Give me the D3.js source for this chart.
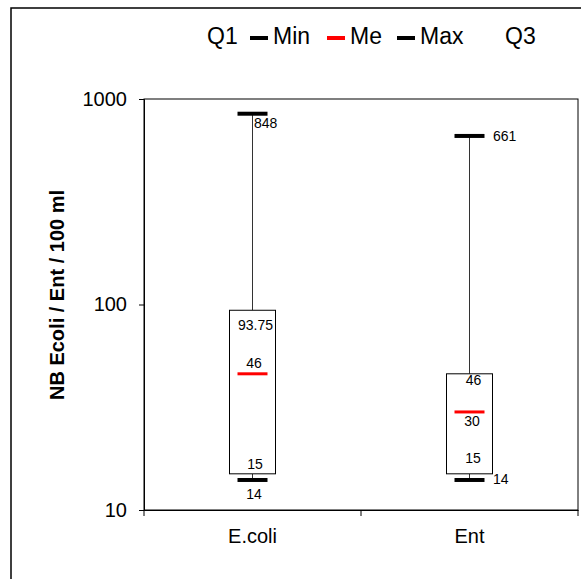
<!DOCTYPE html>
<html>
<head>
<meta charset="utf-8">
<script src="https://cdn.jsdelivr.net/npm/d3@7/dist/d3.min.js"></script>
<style>
  html, body { margin: 0; padding: 0; background: #fff; }
  svg { display: block; font-family: "Liberation Sans", Arial, sans-serif; }
</style>
</head>
<body>
<svg id="chart" width="581" height="579"></svg>
<script>
// Five-number summaries per indicator (counts per 100 ml)
const categories = ["E.coli", "Ent"];
const minVals = [14, 14];
const q1Vals = [15, 15];
const medVals = [46, 30];
const q3Vals = [93.75, 46];
const maxVals = [848, 661];
const yTicks = [10, 100, 1000];
const legendItems = ["Q1", "Min", "Me", "Max", "Q3"];
const legendColors = [null, "#000", "#ff0000", "#000", null];

const svg = d3.select("#chart");
const plot = { left: 144, right: 578, top: 99, bottom: 510 };

// outer chart frame
svg.append("rect")
  .attr("x", 11).attr("y", 8).attr("width", 700).attr("height", 700)
  .attr("fill", "#fff").attr("stroke", "#000").attr("stroke-width", 1.5);

const y = d3.scaleLog().domain([10, 1000]).range([plot.bottom, plot.top]);
const x = d3.scaleBand().domain(categories).range([plot.left, plot.right]).padding(0);

// plot area border
svg.append("rect")
  .attr("x", plot.left).attr("y", plot.top)
  .attr("width", plot.right - plot.left).attr("height", plot.bottom - plot.top)
  .attr("fill", "none").attr("stroke", "#000").attr("stroke-width", 1);

// y axis
const yAxis = svg.append("g")
  .attr("transform", `translate(${plot.left},0)`)
  .call(d3.axisLeft(y).tickValues(yTicks).tickFormat(d3.format("d")).tickSize(5).tickPadding(12));
yAxis.select(".domain").attr("stroke", "#000");
yAxis.selectAll("text").attr("font-size", 20).attr("fill", "#000")
  .attr("font-family", "'Liberation Sans', Arial, sans-serif");

// x axis: labels centred on each category, ticks on category boundaries
const xAxis = svg.append("g")
  .attr("transform", `translate(0,${plot.bottom})`)
  .call(d3.axisBottom(x).tickSize(0).tickPadding(19));
xAxis.select(".domain").attr("stroke", "#000");
xAxis.selectAll("text").attr("font-size", 20).attr("fill", "#000")
  .attr("font-family", "'Liberation Sans', Arial, sans-serif");
const bounds = categories.map(c => x(c)).concat([x(categories[categories.length - 1]) + x.bandwidth()]);
svg.append("g").selectAll("line").data(bounds).join("line")
  .attr("x1", d => d).attr("x2", d => d)
  .attr("y1", plot.bottom).attr("y2", plot.bottom + 6)
  .attr("stroke", "#000");

// y axis title
svg.append("text")
  .attr("transform", "translate(64,295) rotate(-90)")
  .attr("text-anchor", "middle")
  .attr("font-size", 20).attr("font-weight", "bold")
  .text("NB Ecoli / Ent / 100 ml");

// boxes
const boxW = 46, capW = 30;
const rows = categories.map((c, i) => ({
  cat: c, min: minVals[i], q1: q1Vals[i], med: medVals[i], q3: q3Vals[i], max: maxVals[i],
  cx: x(c) + x.bandwidth() / 2
}));

const g = svg.append("g");
rows.forEach(r => {
  // whiskers
  g.append("line").attr("x1", r.cx).attr("x2", r.cx)
    .attr("y1", y(r.max)).attr("y2", y(r.q3)).attr("stroke", "#333").attr("stroke-width", 1);
  g.append("line").attr("x1", r.cx).attr("x2", r.cx)
    .attr("y1", y(r.q1)).attr("y2", y(r.min)).attr("stroke", "#333").attr("stroke-width", 1);
  // box
  g.append("rect").attr("x", r.cx - boxW / 2).attr("y", y(r.q3))
    .attr("width", boxW).attr("height", y(r.q1) - y(r.q3))
    .attr("fill", "#fff").attr("stroke", "#000").attr("stroke-width", 1);
  // caps and median
  g.append("line").attr("x1", r.cx - capW / 2).attr("x2", r.cx + capW / 2)
    .attr("y1", y(r.max)).attr("y2", y(r.max)).attr("stroke", "#000").attr("stroke-width", 4);
  g.append("line").attr("x1", r.cx - capW / 2).attr("x2", r.cx + capW / 2)
    .attr("y1", y(r.min)).attr("y2", y(r.min)).attr("stroke", "#000").attr("stroke-width", 4);
  g.append("line").attr("x1", r.cx - capW / 2).attr("x2", r.cx + capW / 2)
    .attr("y1", y(r.med)).attr("y2", y(r.med)).attr("stroke", "#ff0000").attr("stroke-width", 3);
});

// value labels: offsets from the box centre and the value's y position
const labelLayout = {
  "E.coli": {
    max: { dx: 1.5, dy: 14, anchor: "start" },
    q3:  { dx: 3, dy: 20, anchor: "middle" },
    med: { dx: 1.5, dy: -6, anchor: "middle" },
    q1:  { dx: 2.5, dy: -5, anchor: "middle" },
    min: { dx: 1.5, dy: 19, anchor: "middle" }
  },
  "Ent": {
    max: { dx: 23.5, dy: 5, anchor: "start" },
    q3:  { dx: 4, dy: 11, anchor: "middle" },
    med: { dx: 2.5, dy: 14, anchor: "middle" },
    q1:  { dx: 3.5, dy: -11, anchor: "middle" },
    min: { dx: 23.5, dy: 4.5, anchor: "start" }
  }
};
rows.forEach(r => {
  ["max", "q3", "med", "q1", "min"].forEach(k => {
    const L = labelLayout[r.cat][k];
    g.append("text")
      .attr("x", r.cx + L.dx).attr("y", y(r[k]) + L.dy)
      .attr("text-anchor", L.anchor)
      .attr("font-size", 14).attr("fill", "#000")
      .text(d3.format("")(r[k]));
  });
});

// legend
const legendX = [184, 250, 327, 397, 482];
const legend = svg.append("g");
legendItems.forEach((name, i) => {
  if (legendColors[i]) {
    legend.append("line")
      .attr("x1", legendX[i]).attr("x2", legendX[i] + 18)
      .attr("y1", 38).attr("y2", 38)
      .attr("stroke", legendColors[i]).attr("stroke-width", 4);
  }
  legend.append("text")
    .attr("x", legendX[i] + 23).attr("y", 44)
    .attr("font-size", 23).attr("fill", "#000")
    .text(name);
});
</script>
</body>
</html>
